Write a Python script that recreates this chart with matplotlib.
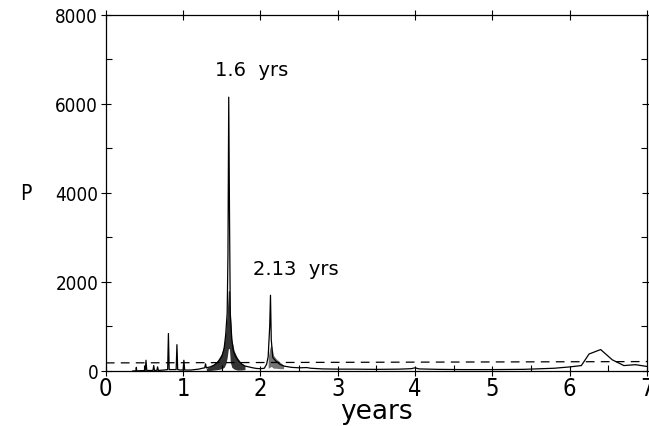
import matplotlib.pyplot as plt
from matplotlib.ticker import MultipleLocator

plt.rcParams["font.family"] = ["DejaVu Sans"]
plt.rcParams["font.stretch"] = "condensed"

# periodogram (period in years, power P)
periode = [0.35, 0.39, 0.395, 0.40, 0.45, 0.51, 0.52, 0.53, 0.58, 0.61, 0.62,
           0.63, 0.66, 0.67, 0.68, 0.75, 0.80, 0.81, 0.82, 0.85, 0.91, 0.92,
           0.93, 0.96, 1.00, 1.01, 1.02, 1.10, 1.15, 1.20, 1.25, 1.28, 1.29,
           1.30, 1.35, 1.40, 1.45, 1.50, 1.53, 1.55, 1.57, 1.58, 1.59, 1.60,
           1.61, 1.63, 1.65, 1.68, 1.72, 1.76, 1.80, 1.85, 1.90, 1.95, 2.00,
           2.05, 2.08, 2.10, 2.12, 2.13, 2.14, 2.16, 2.20, 2.25, 2.30, 2.40,
           2.50, 2.60, 2.65, 2.70, 2.80, 3.00, 3.20, 3.50, 3.80, 3.95, 4.00,
           4.05, 4.30, 4.60, 5.00, 5.40, 5.80, 6.00, 6.15, 6.25, 6.40, 6.55,
           6.70, 6.85, 7.00]
puissance = [0, 0, 80, 0, 5, 10, 240, 10, 10, 10, 120,
             10, 10, 90, 10, 20, 30, 840, 30, 30, 30, 590,
             30, 20, 20, 240, 20, 20, 30, 40, 60, 70, 160,
             70, 90, 130, 200, 320, 500, 800, 1300, 2600, 6150, 3500,
             1300, 700, 450, 320, 220, 150, 110, 90, 70, 55, 50,
             60, 150, 320, 1000, 1700, 700, 300, 220, 150, 110, 80,
             70, 75, 60, 55, 45, 40, 40, 35, 40, 50, 70,
             45, 35, 30, 30, 35, 60, 90, 120, 380, 480, 250,
             120, 140, 100]

# dense ringing around the two main peaks (upper / lower envelope)
anneauX = [1.30, 1.35, 1.40, 1.45, 1.50, 1.53, 1.55, 1.57, 1.585,
           1.60, 1.61, 1.63, 1.66, 1.70, 1.75, 1.80]
anneauHaut = [60, 100, 150, 250, 400, 600, 850, 1300, 1800,
              1800, 1300, 700, 450, 300, 180, 120]
anneauBas = [0, 10, 20, 30, 50, 80, 150, 300, 500,
             500, 200, 80, 40, 20, 20, 30]
anneau2X = [2.10, 2.12, 2.14, 2.17, 2.20, 2.25, 2.30]
anneau2Haut = [300, 500, 600, 350, 280, 200, 130]
anneau2Bas = [60, 80, 100, 60, 60, 50, 50]

# significance level (dashed)
seuilX = [0, 7]
seuilY = [180, 210]

fig = plt.figure(figsize=(6.49, 4.27), dpi=100)
axe = fig.add_axes([0.163, 0.129, 0.834, 0.834])

axe.plot(periode, puissance, color="black", linewidth=0.9)
axe.fill_between(anneauX, anneauBas, anneauHaut, color="black", alpha=0.8, linewidth=0)
axe.fill_between(anneau2X, anneau2Bas, anneau2Haut, color="black", alpha=0.55, linewidth=0)
axe.plot(seuilX, seuilY, color="black", linewidth=0.9, linestyle=(0, (7, 5)))

axe.text(1.88, 6780, "1.6  yrs", fontsize=14, fontstretch="normal",
         ha="center", va="center")
axe.text(2.46, 2300, "2.13  yrs", fontsize=14, fontstretch="normal",
         ha="center", va="center")

axe.set_xlim(0, 7)
axe.set_ylim(0, 8000)
axe.set_yticks([0, 2000, 4000, 6000, 8000])
axe.yaxis.set_minor_locator(MultipleLocator(1000))
axe.set_xticks([0, 1, 2, 3, 4, 5, 6, 7])
axe.xaxis.set_minor_locator(MultipleLocator(0.5))
axe.tick_params(axis="y", which="major", direction="inout", length=7, width=0.8,
                labelsize=13.5, right=True, pad=2)
axe.tick_params(axis="y", which="minor", direction="in", length=4, width=0.8,
                right=True)
axe.tick_params(axis="x", which="major", direction="inout", length=7, width=0.8,
                labelsize=17, top=True, pad=0)
axe.tick_params(axis="x", which="minor", direction="in", length=4, width=0.8,
                top=False)
axe.set_xlabel("years", fontsize=19, fontstretch="normal", labelpad=-1)
axe.set_ylabel("P", fontsize=15, rotation=0, va="center", ha="center")
axe.yaxis.set_label_coords(-0.148, 0.5)

for cote in axe.spines.values():
    cote.set_linewidth(0.9)

fig.savefig("out.png", dpi=100)
